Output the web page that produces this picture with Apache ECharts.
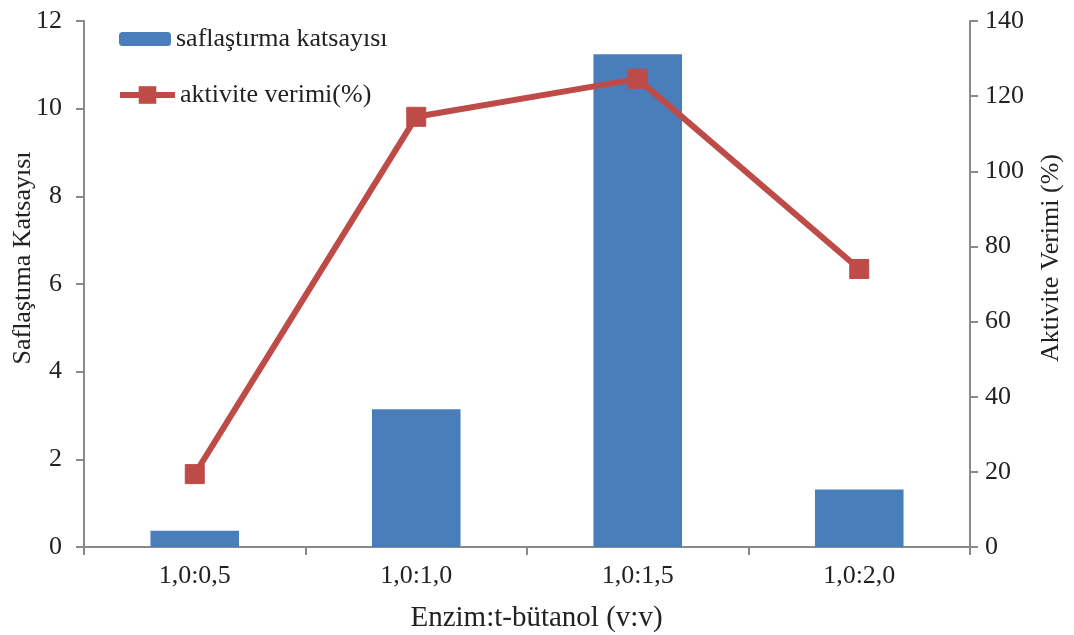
<!DOCTYPE html>
<html>
<head>
<meta charset="utf-8">
<script src="https://cdn.jsdelivr.net/npm/echarts@6/dist/echarts.min.js"></script>
<style>
  html, body { margin: 0; padding: 0; background: #fff; }
  #chart { width: 1074px; height: 635px; }
</style>
</head>
<body>
<div id="chart"></div>
<script>
// Enzyme : t-butanol ratios tested
const categories = ['1,0:0,5', '1,0:1,0', '1,0:1,5', '1,0:2,0'];
// Purification fold (left axis)
const saflastirma = [0.37, 3.14, 11.24, 1.31];
// Activity yield in percent (right axis)
const aktivite = [19.4, 114.5, 124.6, 74.0];

const FONT = '"Liberation Serif", "Times New Roman", serif';
const AXIS_GRAY = '#898989';
const TEXT = '#222222';
const RED = '#BE4B48';

const chart = echarts.init(document.getElementById('chart'), null, { renderer: 'canvas' });

const axisCommon = {
  axisLine: { show: true, lineStyle: { color: AXIS_GRAY, width: 2 } },
  axisTick: { show: true, inside: false, length: 8, lineStyle: { color: AXIS_GRAY, width: 2 } },
  splitLine: { show: false },
  axisLabel: { color: TEXT, fontFamily: FONT, fontSize: 26 }
};

chart.setOption({
  animation: false,
  backgroundColor: '#ffffff',
  grid: { left: 84, right: 104, top: 21, bottom: 88, containLabel: false, outerBoundsMode: 'none' },
  legend: [
    {
      data: ['saflaştırma katsayısı'],
      left: 119, top: 26, padding: 0,
      itemWidth: 52, itemHeight: 14, itemGap: 8,
      textStyle: { color: TEXT, fontFamily: FONT, fontSize: 26 }
    },
    {
      data: ['aktivite verimi(%)'],
      left: 117, top: 82, padding: 0,
      itemWidth: 55, itemHeight: 22, itemGap: 7,
      lineStyle: { width: 6, color: RED },
      textStyle: { color: TEXT, fontFamily: FONT, fontSize: 26 }
    }
  ],
  xAxis: {
    type: 'category',
    data: categories,
    boundaryGap: true,
    name: 'Enzim:t-bütanol (v:v)',
    nameLocation: 'middle',
    nameGap: 57,
    nameMoveOverlap: false,
    nameTextStyle: { color: TEXT, fontFamily: FONT, fontSize: 29, padding: [0, 0, 0, 19] },
    ...axisCommon,
    axisLabel: { ...axisCommon.axisLabel, margin: 16 }
  },
  yAxis: [
    {
      type: 'value',
      min: 0, max: 12, interval: 2,
      position: 'left',
      name: 'Saflaştıma Katsayısı',
      nameLocation: 'middle',
      nameGap: 48,
      nameMoveOverlap: false,
      nameTextStyle: { color: TEXT, fontFamily: FONT, fontSize: 26, padding: [0, 0, 0, 52] },
      ...axisCommon,
      axisLabel: { ...axisCommon.axisLabel, margin: 22 }
    },
    {
      type: 'value',
      min: 0, max: 140, interval: 20,
      position: 'right',
      name: 'Aktivite Verimi (%)',
      nameLocation: 'middle',
      nameGap: 68,
      nameMoveOverlap: false,
      nameTextStyle: { color: TEXT, fontFamily: FONT, fontSize: 26, padding: [0, 0, 0, 52] },
      ...axisCommon,
      axisLabel: { ...axisCommon.axisLabel, margin: 15 }
    }
  ],
  series: [
    {
      name: 'saflaştırma katsayısı',
      type: 'bar',
      yAxisIndex: 0,
      data: saflastirma,
      barWidth: '40%',
      itemStyle: { color: '#4A7EBB' }
    },
    {
      name: 'aktivite verimi(%)',
      type: 'line',
      yAxisIndex: 1,
      data: aktivite,
      symbol: 'rect',
      symbolSize: 19,
      lineStyle: { color: RED, width: 6 },
      itemStyle: { color: RED, borderColor: RED }
    }
  ]
});
</script>
</body>
</html>
